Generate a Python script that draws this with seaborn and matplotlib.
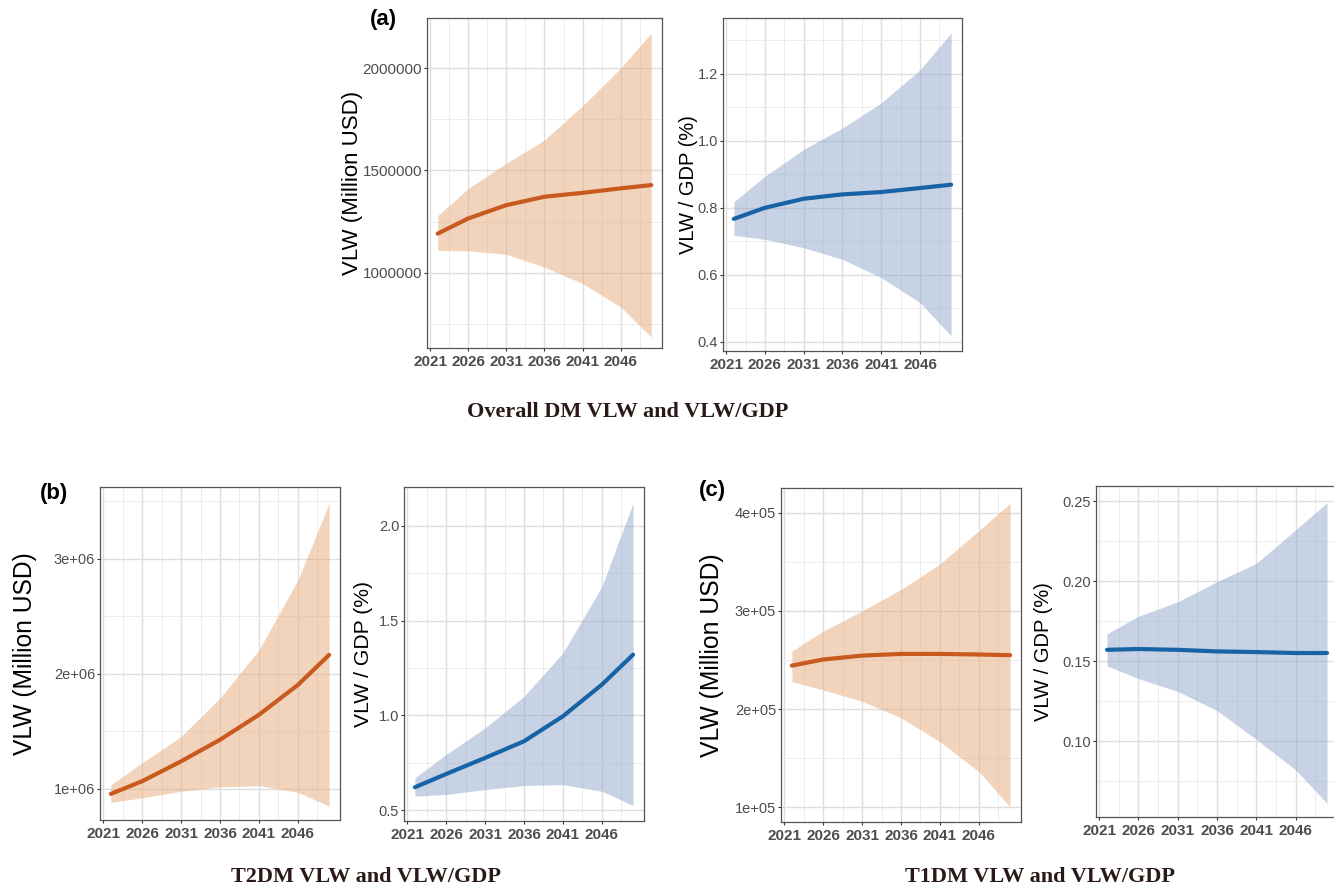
import numpy as np
import matplotlib.pyplot as plt
import seaborn as sns

# years
years = [2022, 2026, 2031, 2036, 2041, 2046, 2050]

# (a) overall DM
dm_vlw    = [1192000, 1266000, 1331000, 1372000, 1391000, 1413000, 1429000]
dm_vlw_hi = [1280000, 1412000, 1535000, 1649000, 1816000, 2000000, 2171000]
dm_vlw_lo = [1110000, 1108000, 1091000, 1029000, 948000, 834000, 687000]
dm_gdp    = [0.767, 0.800, 0.827, 0.840, 0.847, 0.859, 0.869]
dm_gdp_hi = [0.818, 0.894, 0.974, 1.038, 1.113, 1.212, 1.321]
dm_gdp_lo = [0.718, 0.706, 0.681, 0.646, 0.592, 0.517, 0.418]

# (b) T2DM
t2_vlw    = [0.957e6, 1.067e6, 1.240e6, 1.428e6, 1.645e6, 1.905e6, 2.166e6]
t2_vlw_hi = [1.038e6, 1.226e6, 1.457e6, 1.790e6, 2.209e6, 2.817e6, 3.483e6]
t2_vlw_lo = [0.884e6, 0.922e6, 0.980e6, 1.017e6, 1.029e6, 0.971e6, 0.850e6]
t2_gdp    = [0.620, 0.690, 0.775, 0.863, 0.995, 1.162, 1.320]
t2_gdp_hi = [0.670, 0.793, 0.933, 1.100, 1.329, 1.680, 2.120]
t2_gdp_lo = [0.573, 0.582, 0.608, 0.629, 0.634, 0.599, 0.524]

# (c) T1DM
t1_vlw    = [2.443e5, 2.505e5, 2.545e5, 2.562e5, 2.562e5, 2.556e5, 2.549e5]
t1_vlw_hi = [2.59e5, 2.795e5, 3.00e5, 3.22e5, 3.48e5, 3.82e5, 4.10e5]
t1_vlw_lo = [2.28e5, 2.195e5, 2.08e5, 1.91e5, 1.665e5, 1.36e5, 1.00e5]
t1_gdp    = [0.157, 0.1575, 0.157, 0.156, 0.1556, 0.155, 0.155]
t1_gdp_hi = [0.167, 0.178, 0.187, 0.1996, 0.211, 0.232, 0.249]
t1_gdp_lo = [0.147, 0.139, 0.131, 0.119, 0.101, 0.082, 0.061]

x_ticks = [2021, 2026, 2031, 2036, 2041, 2046]

ORANGE = "#C95A1F"
ORANGE_FILL = "#E5AB79"
BLUE = "#1763A5"
BLUE_FILL = "#91A9CB"

sns.set_theme(style="white")
plt.rcParams["font.family"] = ["Liberation Sans", "DejaVu Sans"]

W, H = 1334, 890
fig = plt.figure(figsize=(W / 100, H / 100), dpi=100)


def make_ax(x0, x1, y0, y1):
    return fig.add_axes([x0 / W, 1 - y1 / H, (x1 - x0) / W, (y1 - y0) / H])


def panel(ax, y, lo, hi, color, fill, ylim, yt, ymin, fmt, ylabel, lab_x,
          lab_size, ytick_size):
    ax.fill_between(years, lo, hi, color=fill, alpha=0.5, lw=0, zorder=2)
    sns.lineplot(x=years, y=y, color=color, lw=3.0, ax=ax, zorder=3)
    ax.set_xlim(2020.6, 2051.4)
    ax.set_ylim(*ylim)
    ax.set_xticks(x_ticks)
    ax.set_xticks(np.arange(2023.5, 2050, 5), minor=True)
    ax.set_yticks(yt)
    ax.set_yticks(ymin, minor=True)
    ax.set_yticklabels([fmt(v) for v in yt])
    ax.set_axisbelow(True)
    ax.grid(which="major", color="#DEDEDE", lw=1.0)
    ax.grid(which="minor", color="#ECECEC", lw=0.7)
    ax.tick_params(which="minor", length=0)
    ax.tick_params(which="major", length=2.5, width=0.8, color="#333333",
                   labelcolor="#4D4D4D", left=True, bottom=True)
    ax.tick_params(axis="y", labelsize=ytick_size, pad=1)
    ax.tick_params(axis="x", pad=2.5)
    for t in ax.get_xticklabels():
        t.set_fontweight("bold")
        t.set_fontsize(11)
    for s in ax.spines.values():
        s.set_color("#555555")
        s.set_linewidth(0.9)
    ax.set_xlabel("")
    ax.set_ylabel(ylabel, fontsize=lab_size, color="black")
    ax.yaxis.set_label_coords(lab_x, 0.5)


plain = lambda v: f"{v:.0f}"
sci = lambda v: f"{v:.0e}"
one = lambda v: f"{v:.1f}"
two = lambda v: f"{v:.2f}"

# (a)
ax = make_ax(427, 662, 18, 348)
panel(ax, dm_vlw, dm_vlw_lo, dm_vlw_hi, ORANGE, ORANGE_FILL, (634000, 2244000),
      [1000000, 1500000, 2000000], [750000, 1250000, 1750000], plain,
      "VLW (Million USD)", -0.272, 16, 11)
ax = make_ax(723, 962, 18, 351)
panel(ax, dm_gdp, dm_gdp_lo, dm_gdp_hi, BLUE, BLUE_FILL, (0.373, 1.366),
      [0.4, 0.6, 0.8, 1.0, 1.2], [0.5, 0.7, 0.9, 1.1, 1.3], one,
      "VLW / GDP (%)", -0.105, 14.5, 10.5)

# (b)
ax = make_ax(100, 340, 487, 820)
panel(ax, t2_vlw, t2_vlw_lo, t2_vlw_hi, ORANGE, ORANGE_FILL, (0.73e6, 3.626e6),
      [1e6, 2e6, 3e6], [1.5e6, 2.5e6, 3.5e6], sci,
      "VLW (Million USD)", -0.2625, 17.7, 10.5)
ax = make_ax(404, 644, 487, 821)
panel(ax, t2_gdp, t2_gdp_lo, t2_gdp_hi, BLUE, BLUE_FILL, (0.442, 2.205),
      [0.5, 1.0, 1.5, 2.0], [0.75, 1.25, 1.75], one,
      "VLW / GDP (%)", -0.129, 15.2, 10.5)

# (c)
ax = make_ax(781, 1021, 488, 822)
panel(ax, t1_vlw, t1_vlw_lo, t1_vlw_hi, ORANGE, ORANGE_FILL, (0.847e5, 4.255e5),
      [1e5, 2e5, 3e5, 4e5], [1.5e5, 2.5e5, 3.5e5], sci,
      "VLW (Million USD)", -0.2375, 17.8, 10.5)
ax = make_ax(1096, 1338, 486, 817)
panel(ax, t1_gdp, t1_gdp_lo, t1_gdp_hi, BLUE, BLUE_FILL, (0.0525, 0.2594),
      [0.10, 0.15, 0.20, 0.25], [0.075, 0.125, 0.175, 0.225], two,
      "VLW / GDP (%)", -0.179, 14.5, 10.5)

# panel letters
for lab, x, y in [("(a)", 383, 20), ("(b)", 54, 493), ("(c)", 712, 491)]:
    fig.text(x / W, 1 - y / H, lab, fontsize=16, fontweight="bold",
             ha="center", va="center", color="black")

# group titles
TITLE_KW = dict(fontsize=16, fontweight="bold", ha="center", va="center",
                color="#2A1A17", family=["Liberation Serif", "DejaVu Serif"])
fig.text(628 / W, 1 - 412 / H, "Overall DM VLW and VLW/GDP", **TITLE_KW)
fig.text(366 / W, 1 - 877 / H, "T2DM VLW and VLW/GDP", **TITLE_KW)
fig.text(1040 / W, 1 - 877 / H, "T1DM VLW and VLW/GDP", **TITLE_KW)

fig.savefig("out.png", dpi=100)
